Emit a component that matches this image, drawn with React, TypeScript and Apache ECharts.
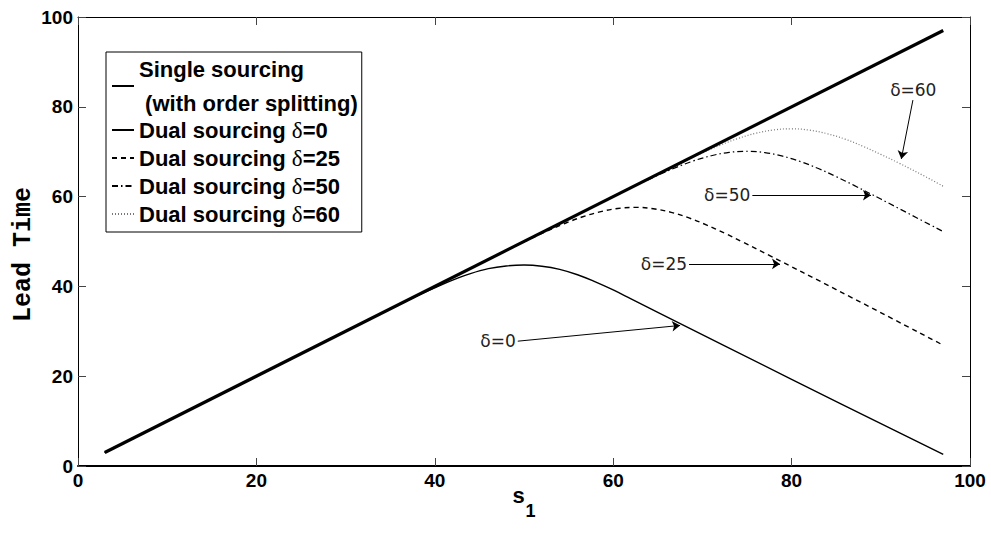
import React, { useEffect, useRef } from 'react';
import * as echarts from 'echarts';

// ---- data ----
const seriesNames = [
  'Single sourcing',
  'Dual sourcing δ=0',
  'Dual sourcing δ=25',
  'Dual sourcing δ=50',
  'Dual sourcing δ=60',
];

const singleSourcing: number[][] = [[3, 3], [97, 97]];

const dualDelta0: number[][] = [
  [3, 3], [20, 20], [35, 35], [38, 37.9], [40, 39.7], [42, 41.4], [44, 42.85], [46, 43.95],
  [48, 44.55], [50, 44.75], [52, 44.5], [54, 43.8], [56, 42.6], [58, 41.0], [60, 39.2],
  [62, 37.2], [65, 34.2], [80, 19.3], [97, 2.6],
];

const dualDelta25: number[][] = [
  [3, 3], [30, 30], [47.5, 47.5], [50.5, 50.4], [52.5, 52.25], [54.5, 53.95], [56.5, 55.45],
  [58.5, 56.6], [60.5, 57.35], [62.5, 57.6], [64.5, 57.3], [66.5, 56.5], [68.5, 55.25],
  [70.5, 53.65], [72.5, 51.85], [74.5, 49.9], [77.5, 46.9], [85, 39.3], [97, 26.9],
];

const dualDelta50: number[][] = [
  [3, 3], [40, 40], [60, 60], [63, 62.9], [65, 64.75], [67, 66.45], [69, 67.95], [71, 69.1],
  [73, 69.85], [75, 70.1], [77, 69.8], [79, 69.0], [81, 67.8], [83, 66.25], [85, 64.45],
  [87, 62.5], [90, 59.45], [97, 52.2],
];

const dualDelta60: number[][] = [
  [3, 3], [40, 40], [65, 65], [68, 67.9], [70, 69.75], [72, 71.45], [74, 72.95], [76, 74.1],
  [78, 74.85], [80, 75.1], [82, 74.8], [84, 74.0], [86, 72.8], [88, 71.2], [90, 69.4],
  [92, 67.5], [95, 64.45], [97, 62.3],
];

const annotationLabels = ['δ=0', 'δ=25', 'δ=50', 'δ=60'];
const arrowFrom: number[][] = [[49.3, 27.8], [68.5, 45.0], [75.6, 60.3], [93.6, 81.5]];
const arrowTo: number[][] = [[67.5, 31.3], [78.7, 45.0], [88.9, 60.3], [92.3, 68.4]];

const xRange = [0, 100];
const yRange = [0, 100];
const tickStep = 20;

const SANS = '"Liberation Sans", Arial, Helvetica, sans-serif';

export default function App() {
  const ref = useRef<HTMLDivElement>(null);

  useEffect(() => {
    if (!ref.current) return;
    const chart = echarts.init(ref.current, undefined, { renderer: 'svg' });

    const axisCommon = {
      type: 'value' as const,
      interval: tickStep,
      splitLine: { show: false },
    };

    const option: any = {
      animation: false,
      backgroundColor: '#fff',
      grid: { left: 78, right: 21, top: 17, bottom: 67, containLabel: false, outerBoundsMode: 'none' },
      legend: {
        orient: 'vertical',
        left: 106,
        top: 52,
        padding: [0, 4, 0, 5],
        itemGap: -8,
        itemWidth: 22,
        itemHeight: 14,
        borderColor: '#000',
        borderWidth: 1,
        backgroundColor: '#fff',
        selectedMode: false,
        itemStyle: { opacity: 0 },
        data: [
          { name: seriesNames[0], textStyle: { lineHeight: 34 } },
          seriesNames[1],
          seriesNames[2],
          seriesNames[3],
          seriesNames[4],
        ],
        formatter: (name: string) => {
          if (name === seriesNames[0]) return 'Single sourcing\n (with order splitting)';
          return name.replace('δ', '{d|δ}');
        },
        textStyle: {
          fontFamily: SANS,
          fontWeight: 'bold',
          fontSize: 22,
          color: '#000',
          lineHeight: 36,
          rich: {
            d: {
              fontFamily: '"Liberation Serif", "DejaVu Serif", serif',
              fontWeight: 'normal',
              fontSize: 23,
              color: '#000',
              lineHeight: 36,
            },
          },
        },
      },
      xAxis: [
        {
          ...axisCommon,
          min: xRange[0],
          max: xRange[1],
          position: 'bottom',
          axisLine: { show: true, onZero: false, lineStyle: { color: '#000', width: 2 } },
          axisTick: { show: true, inside: true, length: 8, lineStyle: { color: '#444' } },
          axisLabel: { color: '#000', fontWeight: 'bold', fontSize: 19, fontFamily: SANS, margin: 5 },
          name: '{s|s}{sub|1}',
          nameLocation: 'middle',
          nameGap: 24,
          nameMoveOverlap: false,
          nameTextStyle: {
            rich: {
              s: { fontFamily: SANS, fontWeight: 'bold', fontSize: 22, color: '#000', lineHeight: 24, padding: [0, 0, 14, 0] },
              sub: { fontFamily: SANS, fontWeight: 'bold', fontSize: 18, color: '#000', lineHeight: 20, padding: [18, 0, 0, 1] },
            },
          },
        },
        {
          ...axisCommon,
          min: xRange[0],
          max: xRange[1],
          position: 'top',
          axisLine: { show: true, onZero: false, lineStyle: { color: '#000', width: 1 } },
          axisTick: { show: true, inside: true, length: 8, lineStyle: { color: '#444' } },
          axisLabel: { show: false },
        },
      ],
      yAxis: [
        {
          ...axisCommon,
          min: yRange[0],
          max: yRange[1],
          position: 'left',
          axisLine: { show: true, onZero: false, lineStyle: { color: '#000', width: 1 } },
          axisTick: { show: true, inside: true, length: 8, lineStyle: { color: '#444' } },
          axisLabel: { color: '#000', fontWeight: 'bold', fontSize: 19, fontFamily: SANS, margin: 5 },
          name: 'Lead Time',
          nameLocation: 'middle',
          nameGap: 42,
          nameMoveOverlap: false,
          nameTextStyle: {
            fontFamily: '"Liberation Mono", "Courier New", monospace',
            fontWeight: 'bold',
            fontSize: 25,
            color: '#000',
            padding: [0, 26, 0, 0],
          },
        },
        {
          ...axisCommon,
          min: yRange[0],
          max: yRange[1],
          position: 'right',
          axisLine: { show: true, onZero: false, lineStyle: { color: '#000', width: 1 } },
          axisTick: { show: true, inside: true, length: 8, lineStyle: { color: '#444' } },
          axisLabel: { show: false },
        },
      ],
      series: [
        {
          name: seriesNames[1],
          type: 'line',
          data: dualDelta0,
          showSymbol: false,
          symbol: 'none',
          smooth: 0.4,
          lineStyle: { color: '#000', width: 1.4, type: 'solid' },
          itemStyle: { color: '#000' },
          z: 3,
        },
        {
          name: seriesNames[2],
          type: 'line',
          data: dualDelta25,
          showSymbol: false,
          symbol: 'none',
          smooth: 0.4,
          lineStyle: { color: '#000', width: 1.4, type: [5, 4] },
          itemStyle: { color: '#000' },
          z: 3,
        },
        {
          name: seriesNames[3],
          type: 'line',
          data: dualDelta50,
          showSymbol: false,
          symbol: 'none',
          smooth: 0.4,
          lineStyle: { color: '#000', width: 1.2, type: [6, 3, 1.5, 3] },
          itemStyle: { color: '#000' },
          z: 3,
        },
        {
          name: seriesNames[4],
          type: 'line',
          data: dualDelta60,
          showSymbol: false,
          symbol: 'none',
          smooth: 0.4,
          lineStyle: { color: '#777', width: 1.2, type: [1, 2] },
          itemStyle: { color: '#777' },
          z: 3,
        },
        {
          name: seriesNames[0],
          type: 'line',
          data: singleSourcing,
          showSymbol: false,
          symbol: 'none',
          lineStyle: { color: '#000', width: 3.2 },
          itemStyle: { color: '#000' },
          z: 4,
        },
        {
          name: '__annotations',
          type: 'line',
          data: [],
          silent: true,
          markLine: {
            silent: true,
            symbol: ['none', 'arrow'],
            symbolSize: 8,
            lineStyle: { color: '#000', width: 1, type: 'solid' },
            label: {
              show: true,
              position: 'start',
              distance: 2,
              formatter: '{b}',
              fontFamily: '"DejaVu Sans", sans-serif',
              fontSize: 17,
              color: '#222',
            },
            emphasis: { disabled: true },
            data: annotationLabels.map((label, i) => [
              { name: label, coord: arrowFrom[i] },
              { coord: arrowTo[i] },
            ]),
          },
        },
      ],
    };

    chart.setOption(option);
    return () => chart.dispose();
  }, []);

  return (
    <div
      ref={ref}
      style={{ position: 'absolute', left: 0, top: 0, width: 991, height: 533, background: '#fff' }}
    />
  );
}
